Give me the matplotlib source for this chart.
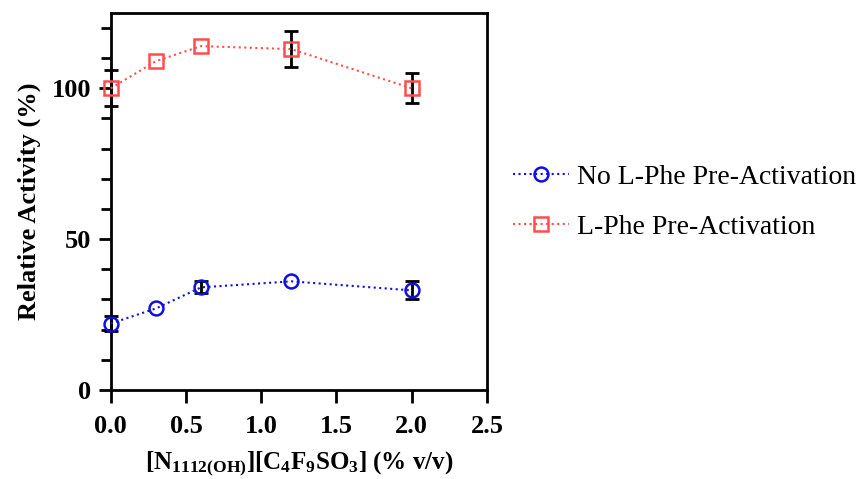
import matplotlib
matplotlib.use("Agg")
import matplotlib.pyplot as plt
from matplotlib.ticker import MultipleLocator

plt.rcParams['font.family'] = ['Liberation Serif', 'DejaVu Serif']
plt.rcParams['mathtext.fontset'] = 'custom'
plt.rcParams['mathtext.rm'] = 'Liberation Serif:bold'
plt.rcParams['mathtext.bf'] = 'Liberation Serif:bold'
plt.rcParams['mathtext.it'] = 'Liberation Serif:bold'

# data (0 = error bar hidden behind the marker)
conc = [0.0, 0.3, 0.6, 1.2, 2.0]
no_phe = [22, 27, 34, 36, 33]
no_phe_err = [2.5, 0, 2, 0, 3]
phe = [100, 109, 114, 113, 100]
phe_err = [6, 0, 0, 6, 5]

fig = plt.figure(figsize=(8.65, 4.79), dpi=100)
ax = fig.add_axes([0.128, 0.186, 0.435, 0.787])

series = [(no_phe, no_phe_err, 'o', '#1010dd', 10, 'No L-Phe Pre-Activation'),
          (phe, phe_err, 's', '#ff4d4d', 10, 'L-Phe Pre-Activation')]
handles = []
for y, err, mk, col, ms, lab in series:
    xs = [c for c, e in zip(conc, err) if e > 0]
    ys = [v for v, e in zip(y, err) if e > 0]
    es = [e for e in err if e > 0]
    eb = ax.errorbar(xs, ys, yerr=es, fmt='none', ecolor='black',
                     elinewidth=2, capsize=5, capthick=2, zorder=2)
    for art in eb.lines[1]:
        art.set_clip_on(False)
    for art in eb.lines[2]:
        art.set_clip_on(False)
    ln, = ax.plot(conc, y, marker=mk, ls=':', color=col, mfc='none', mec=col,
                  ms=ms, mew=1.8, lw=1.5, label=lab, zorder=3, clip_on=False)
    handles.append(ln)

ax.set_xlim(0, 2.5)
ax.set_ylim(0, 125)
ax.set_xticks([0, 0.5, 1.0, 1.5, 2.0, 2.5])
ax.set_yticks([0, 50, 100])
ax.yaxis.set_minor_locator(MultipleLocator(10))
ax.tick_params(axis='x', which='major', length=9, width=2, labelsize=19, pad=9)
ax.tick_params(axis='y', which='major', length=9, width=2, labelsize=19, pad=5)
ax.tick_params(axis='y', which='minor', length=7, width=2)
for lab in ax.get_xticklabels() + ax.get_yticklabels():
    lab.set_fontweight('bold')
for sp in ax.spines.values():
    sp.set_linewidth(2)

ax.set_ylabel('Relative Activity (%)', fontsize=19, fontweight='bold', labelpad=8)
ax.set_xlabel(r'[N$_{1112(OH)}$][C$_4$F$_9$SO$_3$] (% v/v)', fontsize=18,
              fontweight='bold', labelpad=8)

fig.legend(handles, [h.get_label() for h in handles], loc='center left',
           bbox_to_anchor=(0.593, 0.578), frameon=False, fontsize=20,
           handlelength=2.0, labelspacing=0.9, handletextpad=0.3,
           borderpad=0, borderaxespad=0)

fig.savefig('out.png', dpi=100)
